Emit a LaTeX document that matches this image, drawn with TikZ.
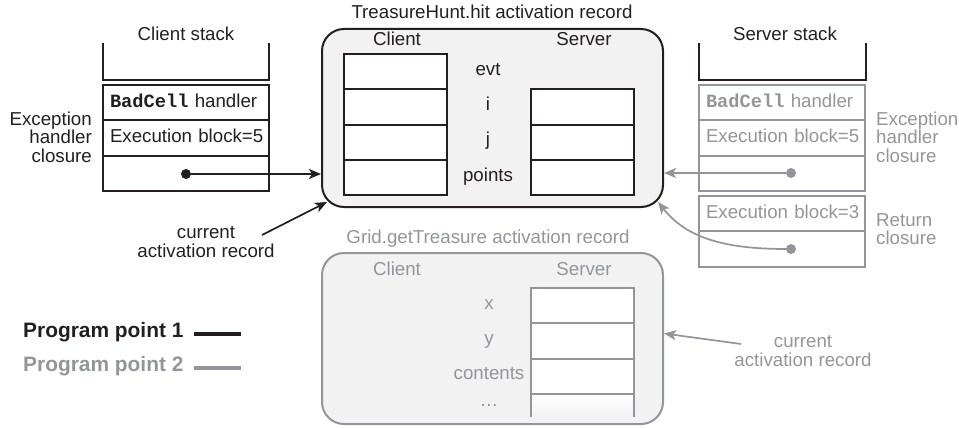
\documentclass[tikz,border=0pt]{standalone}
\usepackage{fontspec}
\setmainfont{Liberation Sans}
\setmonofont{Liberation Mono}
\usetikzlibrary{arrows.meta}
\definecolor{ink}{HTML}{231F20}
\definecolor{dim}{HTML}{939598}
\definecolor{recfill}{HTML}{F2F2F2}
\newcommand\figfont{\fontsize{18.7}{18.6}\selectfont}
\tikzset{
  lbl/.style={inner sep=0, text height=0.72em, text depth=0},
  note/.style={inner sep=0, align=center},
  stackcell/.style={draw, line width=2, anchor=north west, outer sep=0, minimum height=35.3,
    text width=152, inner xsep=7, inner ysep=0, align=left, text height=1.0em, text depth=0},
  fieldcell/.style={draw, line width=2, fill=white, anchor=north west, outer sep=0,
    minimum width=103, minimum height=35.3, inner sep=0},
  record/.style={draw, line width=2, fill=recfill, rounded corners=22, inner sep=0},
  dot/.style={circle, fill, inner sep=0, minimum size=10},
  ptr/.style={line width=1.7, -{Stealth[length=12, width=10, inset=3]}}
}
\begin{document}
\begin{tikzpicture}[x=1pt, y=-1pt, font=\figfont, color=ink]
  \useasboundingbox (0,0) rectangle (959,428);

  % Client stack
  \node[lbl] (cstack) at (186,36.5) {Client stack};
  \draw[line width=2.2] (103,43) -- (103,80) -- (269,80) -- (269,43); % open top
  \foreach \y/\n/\t in {85/cc1/{\texttt{\bfseries BadCell} handler}, 120.3/cc2/{Execution block=5}, 155.6/cc3/{}}
    \node[stackcell] (\n) at (103,\y) {\mbox{\t}};
  \node[dot] (cdot) at (186,174) {};
  \node[note, anchor=east, align=right] (cexc) at (92,137) {Exception\\handler\\closure};

  % TreasureHunt.hit record
  \node[lbl] (thtitle) at (492,15) {TreasureHunt.hit activation record};
  \node[record, minimum width=341, minimum height=178] (threc) at (492.5,118) {};
  \node[lbl] (thcl) at (397,42) {Client};
  \node[lbl] (thsv) at (584,42) {Server};
  \foreach \i in {1,...,4}
    \node[fieldcell] (thc\i) at (344,18.7+35.3*\i) {};
  \foreach \i in {2,3,4}
    \node[fieldcell] (ths\i) at (531,18.7+35.3*\i) {};
  \foreach \i/\t in {1/evt,2/i,3/j,4/points}
    \node[lbl] (thv\i) at (488,36.4+35.3*\i) {\t};

  % Server stack
  \node[lbl] (sstack) at (785,36.5) {Server stack};
  \draw[line width=2.2] (699,43) -- (699,80) -- (866,80) -- (866,43); % open top
  \foreach \y/\n/\t in {85/sc1/{\texttt{\bfseries BadCell} handler}, 120.3/sc2/{Execution block=5}, 155.6/sc3/{},
                        196/sc4/{Execution block=3}, 231.3/sc5/{}}
    \node[stackcell, draw=dim, text=dim] (\n) at (699,\y) {\mbox{\t}};
  \node[dot, dim] (sdot1) at (791,173) {};
  \node[dot, dim] (sdot2) at (791,249) {};
  \node[note, dim, anchor=west, align=left] (sexc) at (876,137) {Exception\\handler\\closure};
  \node[note, dim, anchor=west, align=left] (sret) at (876,229) {Return\\closure};

  % pointers at program point 1
  \coordinate (thsw) at (327,202); % rounded corner
  \coordinate (thse) at (658,202); % rounded corner
  \node[note] (cur1) at (206,242) {current\\activation record};
  \coordinate (cur1end) at (262,235);
  \draw[ptr] (cdot) -- (cdot -| threc.west);
  \draw[ptr] (cur1end) -- (thsw);

  % pointers at program point 2
  \draw[ptr, dim] (sdot1) -- (sdot1 -| threc.east);
  \draw[ptr, dim] (sdot2) .. controls (720,249) and (685,236) .. (thse);

  % Grid.getTreasure record
  \node[lbl, dim] (grtitle) at (488,240) {Grid.getTreasure activation record};
  \node[record, draw=dim, minimum width=341, minimum height=171] (grrec) at (492.5,338.5) {};
  \node[lbl, dim] (grcl) at (397,272) {Client};
  \node[lbl, dim] (grsv) at (584,272) {Server};
  \foreach \i in {1,2,3}
    \node[fieldcell, draw=dim] (grs\i) at (531,252.7+35.3*\i) {};
  \shade[top color=white, bottom color=recfill] (531,393.9) rectangle (634,417); % fading last slot
  \draw[dim, line width=2] (531,417) -- (531,393.9) -- (634,393.9) -- (634,417);
  \foreach \i/\t in {1/x,2/y,3/contents}
    \node[lbl, dim] (grv\i) at (489,270.4+35.3*\i) {\t};
  \node[lbl, dim] (grv4) at (489,403) {\dots};
  \node[note, dim] (cur2) at (803,351) {current\\activation record};
  \coordinate (cur2end) at (741,344);
  \draw[ptr, dim] (cur2end) -- ([yshift=5]grrec.east);

  % legend
  \node[lbl, anchor=west, font=\fontsize{20.9}{21}\selectfont\bfseries] (pp1) at (23,334) {Program point 1};
  \node[lbl, anchor=west, dim, font=\fontsize{20.9}{21}\selectfont\bfseries] (pp2) at (23,368) {Program point 2};
  \draw[line width=3.2] ([xshift=10]pp1.east) -- ([xshift=57]pp1.east);
  \draw[dim, line width=3.2] ([xshift=10]pp2.east) -- ([xshift=57]pp2.east);
\end{tikzpicture}
\end{document}
